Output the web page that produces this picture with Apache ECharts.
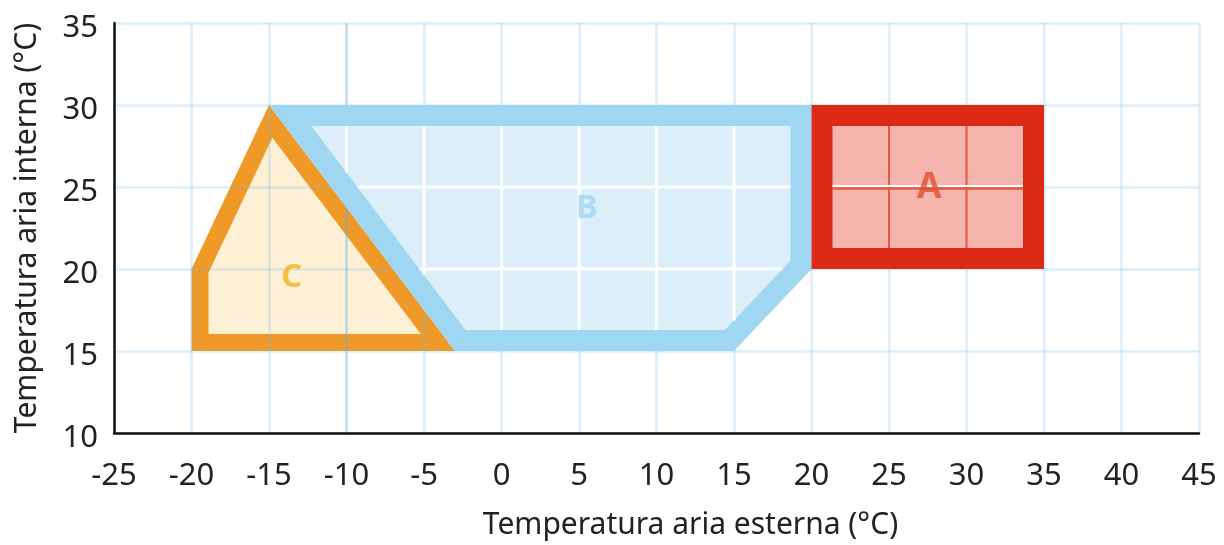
<!DOCTYPE html>
<html><head><meta charset="utf-8">
<script src="https://cdn.jsdelivr.net/npm/echarts@6/dist/echarts.min.js"></script>
<style>html,body{margin:0;padding:0;background:#fff}#c{width:1224px;height:545px}</style>
</head><body><div id="c"></div>
<script>
// ---- data ----
const xTicks = [-25,-20,-15,-10,-5,0,5,10,15,20,25,30,35,40,45];
const yTicks = [10,15,20,25,30,35];
const xTitle = 'Temperatura aria esterna (°C)';
const yTitle = 'Temperatura aria interna (°C)';
const zoneA = [[20,20],[35,20],[35,30],[20,30]];
const zoneB = [[-15,30],[20,30],[20,20],[15,15],[-3,15]];
const zoneC = [[-15,30],[-20,20],[-20,15],[-3,15]];
const zoneNames = ['A','B','C'];
const labelX = [27.6, 5.5, -13.55];
const labelY = [24.95, 23.7, 19.5];

// ---- geometry helpers (pixel space) ----
function centroid(p){let x=0,y=0;p.forEach(q=>{x+=q[0];y+=q[1];});return [x/p.length,y/p.length];}
function edgesInward(p){
  const c=centroid(p), n=p.length, out=[];
  for(let i=0;i<n;i++){
    const a=p[i], b=p[(i+1)%n];
    const dx=b[0]-a[0], dy=b[1]-a[1], L=Math.hypot(dx,dy);
    let nx=-dy/L, ny=dx/L;
    if((c[0]-a[0])*nx+(c[1]-a[1])*ny<0){nx=-nx;ny=-ny;}
    out.push({a:a,d:[dx,dy],n:[nx,ny]});
  }
  return out;
}
function cross(u,v){return u[0]*v[1]-u[1]*v[0];}
function inset(p,w){
  const E=edgesInward(p), n=E.length, res=[];
  for(let i=0;i<n;i++){
    const e1=E[(i-1+n)%n], e2=E[i];
    const P1=[e1.a[0]+e1.n[0]*w, e1.a[1]+e1.n[1]*w];
    const P2=[e2.a[0]+e2.n[0]*w, e2.a[1]+e2.n[1]*w];
    const den=cross(e1.d,e2.d);
    if(Math.abs(den)<1e-9){res.push(P2);continue;}
    const t=cross([P2[0]-P1[0],P2[1]-P1[1]],e2.d)/den;
    res.push([P1[0]+e1.d[0]*t, P1[1]+e1.d[1]*t]);
  }
  return res;
}
function clipSeg(a,b,poly){
  const E=edgesInward(poly); let tE=0,tL=1;
  const D=[b[0]-a[0],b[1]-a[1]];
  for(const e of E){
    const num=(a[0]-e.a[0])*e.n[0]+(a[1]-e.a[1])*e.n[1];
    const den=D[0]*e.n[0]+D[1]*e.n[1];
    if(Math.abs(den)<1e-9){ if(num<0) return null; continue; }
    const t=-num/den;
    if(den>0) tE=Math.max(tE,t); else tL=Math.min(tL,t);
    if(tE>tL) return null;
  }
  return [[a[0]+D[0]*tE,a[1]+D[1]*tE],[a[0]+D[0]*tL,a[1]+D[1]*tL]];
}
function gridSegs(api,poly,children,stroke,width,dy,which){
  const xmin=xTicks[0], xmax=xTicks[xTicks.length-1], ymin=yTicks[0], ymax=yTicks[yTicks.length-1];
  if(which!=='h') xTicks.forEach(x=>{
    const s=clipSeg(api.coord([x,ymin]),api.coord([x,ymax]),poly);
    if(s&&Math.hypot(s[1][0]-s[0][0],s[1][1]-s[0][1])>1) children.push({type:'line',shape:{x1:s[0][0],y1:s[0][1],x2:s[1][0],y2:s[1][1]},style:{stroke:stroke,lineWidth:width}});
  });
  if(which!=='v') yTicks.forEach(y=>{
    const s=clipSeg(api.coord([xmin,y]),api.coord([xmax,y]),poly);
    if(s&&Math.hypot(s[1][0]-s[0][0],s[1][1]-s[0][1])>1) children.push({type:'line',shape:{x1:s[0][0],y1:s[0][1]+(dy||0),x2:s[1][0],y2:s[1][1]+(dy||0)},style:{stroke:stroke,lineWidth:width}});
  });
}
function zoneRender(zone,band,fill,bw,extra){
  return function(params,api){
    const outer=zone.map(p=>api.coord(p));
    const inner=inset(outer,bw);
    const children=[
      {type:'polygon',shape:{points:outer},style:{fill:band}},
      {type:'polygon',shape:{points:inner},style:{fill:fill}}
    ];
    if(extra) extra(api,inner,children);
    return {type:'group',children:children};
  };
}

const FONT='Noto Sans';
const gridColor='rgba(120,190,235,0.26)';
const xSplitColors=xTicks.map(v=>v===-10?'rgba(90,175,228,0.42)':gridColor);

const chart=echarts.init(document.getElementById('c'),null,{renderer:'canvas'});
chart.setOption({
  animation:false,
  backgroundColor:'#ffffff',
  grid:{left:114,right:25,top:23,bottom:106,containLabel:false},
  xAxis:{type:'value',min:xTicks[0],max:xTicks[xTicks.length-1],interval:5,z:1,
    axisLine:{show:true,onZero:false,lineStyle:{color:'#111',width:2.5}},
    axisTick:{show:false},
    axisLabel:{fontSize:31,color:'#222',fontFamily:FONT,margin:28},
    splitLine:{show:true,lineStyle:{color:xSplitColors,width:2.5}},
    name:xTitle,nameLocation:'middle',nameGap:77,
    nameTextStyle:{fontSize:30,color:'#222',fontFamily:FONT,padding:[0,0,0,68]}},
  yAxis:{type:'value',min:yTicks[0],max:yTicks[yTicks.length-1],interval:5,z:1,
    axisLine:{show:true,onZero:false,lineStyle:{color:'#111',width:2.5}},
    axisTick:{show:false},
    axisLabel:{fontSize:31,color:'#222',fontFamily:FONT,margin:16,lineHeight:10,
      formatter:function(v){return '\n'+v;}},
    splitLine:{show:true,lineStyle:{color:gridColor,width:2.5}},
    name:yTitle,nameLocation:'middle',nameGap:72,
    nameTextStyle:{fontSize:30,color:'#222',fontFamily:FONT}},
  series:[
    {type:'custom',name:'C',z:0,silent:true,data:[zoneC[0]],
     renderItem:zoneRender(zoneC,'#ef9a28','#fdf0d5',17)},
    {type:'custom',name:'B',z:2,silent:true,data:[zoneB[0]],
     renderItem:zoneRender(zoneB,'#9fd6f1','#dceef8',21,function(api,inner,ch){
       gridSegs(api,inner,ch,'#ffffff',3);
     })},
    {type:'custom',name:'A',z:2,silent:true,data:[zoneA[0]],
     renderItem:zoneRender(zoneA,'#dc2a16','#f5b4ae',21,function(api,inner,ch){
       gridSegs(api,inner,ch,'#e4573f',2,0,'v');
       gridSegs(api,inner,ch,'#e4573f',2.5,1.5,'h');
       gridSegs(api,inner,ch,'#ffffff',2,-1,'h');
     })},
    {type:'scatter',z:5,silent:true,symbolSize:0,
     data:zoneNames.map((n,i)=>({name:n,value:[labelX[i],labelY[i]],
       label:{color:['#e2502f','#a2d6f2','#f1b41c'][i],fontSize:[36,33,33][i]}})),
     label:{show:true,position:'inside',formatter:'{b}',fontSize:33,fontWeight:'bold',fontFamily:FONT}}
  ]
});
</script></body></html>
